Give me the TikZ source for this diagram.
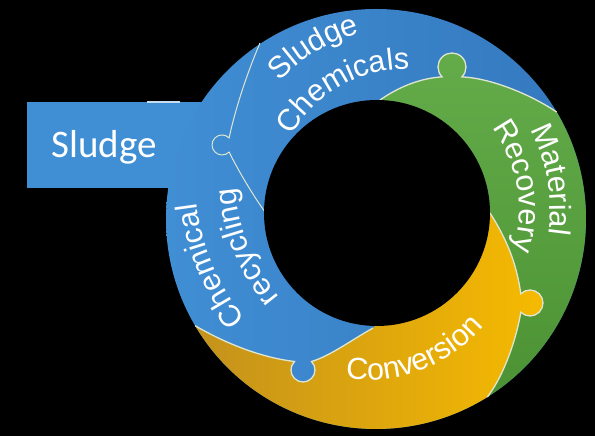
\documentclass[tikz,border=0pt]{standalone}
\usepackage{fontspec}
\usetikzlibrary{decorations.text}

\newfontfamily\ringfont{Liberation Sans}
\newfontfamily\boxfont{Carlito}
\newcommand{\ringfmt}{\ringfont\fontsize{30.5}{36}\selectfont}
\newcommand{\boxfmt}{\boxfont\fontsize{39}{44}\selectfont}

\definecolor{blueL}{RGB}{64,142,212}
\definecolor{blueD}{RGB}{52,120,190}
\definecolor{greenL}{RGB}{100,172,74}
\definecolor{greenD}{RGB}{76,146,52}
\definecolor{yellowL}{RGB}{246,186,0}
\definecolor{yellowD}{RGB}{196,146,28}
\definecolor{seamcol}{RGB}{222,230,210}

% cuts between the pieces (each starts where the previous point ends)
\newcommand{\cutBG}{.. controls (400,350) and (422,358) .. (442.1,359.1)
  arc[start angle=225, end angle=-45, radius=14]
  .. controls (490,358) and (530,342) .. (556.7,323.9)}
\newcommand{\cutGY}{.. controls (508,195) and (517,170) .. (520.8,142.2)
  arc[start angle=135, end angle=-135, radius=13]
  .. controls (517,100) and (505,62) .. (487.3,38.9)}
\newcommand{\cutBY}{.. controls (230,90) and (265,78) .. (294.5,74.5)
  arc[start angle=135, end angle=405, radius=12]
  .. controls (330,80) and (350,95) .. (373,108)}
\newcommand{\cutBB}{.. controls (248,365) and (236,330) .. (229.1,298.1)
  arc[start angle=45, end angle=315, radius=10]
  .. controls (236,270) and (250,245) .. (265,224)}

\tikzset{
  seam/.style={draw=seamcol, line width=1.3pt},
  ringtext/.style={decorate, decoration={text along path, text align=center,
      text color=white, text={|\ringfmt|#1}}},
}

\begin{document}
\begin{tikzpicture}[x=1pt, y=1pt]
    \fill[black] (0,0) rectangle (595,436);
    \useasboundingbox (0,0) rectangle (595,436);

    % input box
    \fill[blueL] (27,248) rectangle (210,334);
    \draw[white!70!blueL, line width=1.2pt] (147,334) -- (180,334);
    \node[text=white, font=\boxfmt, anchor=base] (sludge) at (104,278) {Sludge};

    % ring
    \coordinate (ring) at (376,217);
    \coordinate (hole) at (377,223);
    \shade[left color=blueL, right color=blueD] (ring) circle[radius=210];
    \shade[top color=greenL, bottom color=greenD] (380,336) \cutBG
        arc[start angle=30.6, end angle=-58, radius=210] -- (490,223) -- cycle;
    \shade[left color=yellowD, right color=yellowL] (490,223) \cutGY
        arc[start angle=-58, end angle=-149.45, radius=210] \cutBY -- cycle;

    % seams
    \draw[seam] (380,336) \cutBG;
    \draw[seam] (490,223) \cutGY;
    \draw[seam] (195.1,110.3) \cutBY;
    \draw[seam, line width=1pt] (260,393) \cutBB;

    \fill[black] (hole) circle[radius=113];

    % labels along the ring
    \coordinate (arcA) at (405,237);
    \coordinate (arcB) at (380,226);
    \coordinate (arcC) at (368,208);
    \coordinate (arcD) at (429,262);
    \path[ringtext=Sludge] ([shift={(161:172)}]arcA) arc[start angle=161, end angle=81, radius=172];
    \path[ringtext=Chemicals] ([shift={(169.4:130)}]arcA) arc[start angle=169.4, end angle=69.4, radius=130];
    \path[ringtext=Material] ([shift={(50:170)}]arcB) arc[start angle=50, end angle=-30, radius=170];
    \path[ringtext=Recovery] ([shift={(54.85:139)}]arcB) arc[start angle=54.85, end angle=-35.15, radius=139];
    \path[ringtext=Conversion] ([shift={(-114.4:152)}]arcC) arc[start angle=-114.4, end angle=-24.4, radius=152];
    \path[ringtext=Chemical] ([shift={(232.7:234)}]arcD) arc[start angle=232.7, end angle=172.7, radius=234];
    \path[ringtext=recycling] ([shift={(236.8:194)}]arcD) arc[start angle=236.8, end angle=166.8, radius=194];
\end{tikzpicture}
\end{document}
